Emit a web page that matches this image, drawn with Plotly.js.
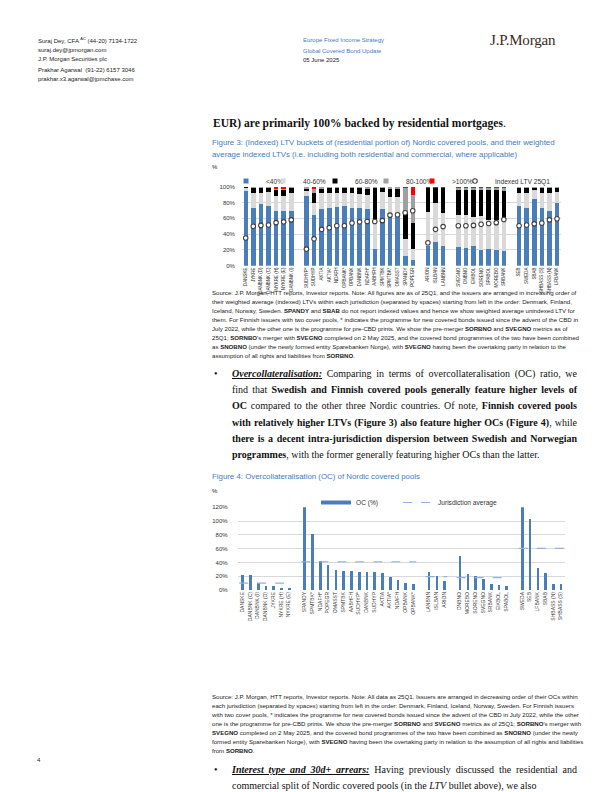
<!DOCTYPE html>
<html>
<head>
<meta charset="utf-8">
<script src="https://cdn.plot.ly/plotly-3.0.1.min.js"></script>
<style>
  html, body { margin: 0; padding: 0; background: #fff; }
  body { width: 612px; height: 792px; position: relative; overflow: hidden; }
  #chart { position: absolute; left: 0; top: 0; width: 612px; height: 792px; }
  .t { position: absolute; white-space: nowrap; font-family: "Liberation Sans", Arial, sans-serif; line-height: 1; color: #222; }
  .hd { font-size: 6px; }
  .blue { color: #3f7cc0; }
  .logo { font-family: "Liberation Serif", "Times New Roman", serif; font-size: 15px; color: #3b2a1e; letter-spacing: -0.2px; }
  .ftitle { font-size: 7.85px; color: #3f7cc0; }
  .src { font-size: 6.1px; color: #222; }
  .body { font-family: "Liberation Serif", "Times New Roman", serif; font-size: 10px; color: #111; }
  .jl { text-align: justify; text-align-last: justify; width: 345px; }
  b.bi { font-weight: bold; font-style: italic; text-decoration: underline; }
</style>
</head>
<body>
<div id="chart"></div>

<!-- header -->
<div class="t hd" style="left:38px;top:37px;">Suraj Dey, CFA <sup style="font-size:4px;">AC</sup> (44-20) 7134-1722</div>
<div class="t hd" style="left:38px;top:46.5px;">suraj.dey@jpmorgan.com</div>
<div class="t hd" style="left:38px;top:55.5px;">J.P. Morgan Securities plc</div>
<div class="t hd" style="left:38px;top:66.5px;">Prakhar Agarwal &nbsp;(91-22) 6157 3046</div>
<div class="t hd" style="left:38px;top:75.5px;">prakhar.x3.agarwal@jpmchase.com</div>
<div class="t hd blue" style="left:303px;top:37px;">Europe Fixed Income Strategy</div>
<div class="t hd blue" style="left:303px;top:48px;">Global Covered Bond Update</div>
<div class="t hd" style="left:303px;top:57px;">05 June 2025</div>
<div class="t logo" style="left:490px;top:33px;">J.P.Morgan</div>

<div class="t body" style="left:213px;top:118px;font-size:11.5px;"><b>EUR) are primarily 100% backed by residential mortgages</b>.</div>

<!-- Figure 3 title -->
<div class="t ftitle" style="left:212px;top:139px;">Figure 3: (Indexed) LTV buckets of (residential portion of) Nordic covered pools, and their weighted</div>
<div class="t ftitle" style="left:212px;top:151px;">average indexed LTVs (i.e. including both residential and commercial, where applicable)</div>
<div class="t src" style="left:212px;top:164px;font-size:6px;">%</div>

<!-- Figure 3 source -->
<div class="t src" style="left:212px;top:288px;line-height:9px;">
Source: J.P. Morgan, HTT reports, Investor reports. Note: All figures are as of 25Q1, and the issuers are arranged in increasing order of<br>
their weighted average (indexed) LTVs within each jurisdiction (separated by spaces) starting from left in the order: Denmark, Finland,<br>
Iceland, Norway, Sweden. <b>SPANDY</b> and <b>SBAB</b> do not report indexed values and hence we show weighted average unindexed LTV for<br>
them. For Finnish issuers with two cover pools, * indicates the programme for new covered bonds issued since the advent of the CBD in<br>
July 2022, while the other one is the programme for pre-CBD prints. We show the pre-merger <b>SORBNO</b> and <b>SVEGNO</b> metrics as of<br>
25Q1; <b>SORNBO</b>'s merger with <b>SVEGNO</b> completed on 2 May 2025, and the covered bond programmes of the two have been combined<br>
as <b>SNOBNO</b> (under the newly formed entity Sparebanken Norge), with <b>SVEGNO</b> having been the overtaking party in relation to the<br>
assumption of all rights and liabilities from <b>SORBNO</b>.
</div>

<!-- Bullet 1 -->
<div class="t body" style="left:214px;top:369px;">&#8226;</div>
<div class="t body jl" style="left:232px;top:369px;"><b class="bi">Overcollateralisation:</b> Comparing in terms of overcollateralisation (OC) ratio, we</div>
<div class="t body jl" style="left:232px;top:385.2px;">find that <b>Swedish and Finnish covered pools generally feature higher levels of</b></div>
<div class="t body jl" style="left:232px;top:401.4px;"><b>OC</b> compared to the other three Nordic countries. Of note, <b>Finnish covered pools</b></div>
<div class="t body jl" style="left:232px;top:417.6px;"><b>with relatively higher LTVs (Figure 3) also feature higher OCs (Figure 4)</b>, while</div>
<div class="t body jl" style="left:232px;top:433.8px;"><b>there is a decent intra-jurisdiction dispersion between Swedish and Norwegian</b></div>
<div class="t body" style="left:232px;top:450px;"><b>programmes</b>, with the former generally featuring higher OCs than the latter.</div>

<!-- Figure 4 title -->
<div class="t ftitle" style="left:212px;top:473px;">Figure 4: Overcollateralisation (OC) of Nordic covered pools</div>
<div class="t src" style="left:212px;top:488px;font-size:6px;">%</div>

<!-- Figure 4 source -->
<div class="t src" style="left:212px;top:692px;line-height:9px;">
Source: J.P. Morgan, HTT reports, Investor reports. Note: All data as 25Q1. Issuers are arranged in decreasing order of their OCs within<br>
each jurisdiction (separated by spaces) starting from left in the order: Denmark, Finland, Iceland, Norway, Sweden. For Finnish issuers<br>
with two cover pools, * indicates the programme for new covered bonds issued since the advent of the CBD in July 2022, while the other<br>
one is the programme for pre-CBD prints. We show the pre-merger <b>SORBNO</b> and <b>SVEGNO</b> metrics as of 25Q1; <b>SORBNO</b>'s merger with<br>
<b>SVEGNO</b> completed on 2 May 2025, and the covered bond programmes of the two have been combined as <b>SNOBNO</b> (under the newly<br>
formed entity Sparebanken Norge), with <b>SVEGNO</b> having been the overtaking party in relation to the assumption of all rights and liabilities<br>
from <b>SORBNO</b>.
</div>

<div class="t hd" style="left:37px;top:757px;">4</div>

<!-- Bullet 2 -->
<div class="t body" style="left:214px;top:765px;">&#8226;</div>
<div class="t body jl" style="left:232px;top:765px;"><b class="bi">Interest type and 30d+ arrears:</b> Having previously discussed the residential and</div>
<div class="t body" style="left:232px;top:781px;">commercial split of Nordic covered pools (in the <i>LTV</i> bullet above), we also</div>

<script>
// ---------------- Figure 3 data: LTV buckets (%), 25Q1 ----------------
const ltvIssuers = [
  'DANSKE','JYKRE','DANBNK (D)','DANBNK (C)','NYKRE (H)','NYKRE (E)','DANBNK (I)',
  'SUDHYP*','SUDHYP','AKTIA','AKTIA*','NDAFH','OPBANK*','OPBANK','DANBNK','NDAFH*','AABHFH','SPMTBK','SPMTBK*','OMASST','SPANDY','POPEGR',
  'ARION','ISLBAN','LANBNN',
  'SVEGNO','DNBNO','EIKBOL','SORENO','SPABOL','MOREBO','SRBANK',
  'SEB','SWEDA','SBAB','SHBASS (S)','SHBASS (N)','LFBANK'
];
const ltvGroupSizes = [7, 15, 3, 7, 6];
const ltvBelow40 = [95,73,78,76,69,69,70, 88,64,72,74,75,76,74,74,72,22,72,64,63,13,8, 25,31,25, 24,23,25,20,22,20,19, 76,74,85,73,70,80];
const ltv40to60  = [4,19,15,18,19,19,22, 7,16,20,18,18,16,18,17,18,36,22,23,24,21,14, 43,49,42, 40,41,37,43,36,38,40, 17,18,11,20,22,14];
const ltv60to80  = [1,7,6,5,9,9,7, 3,13,6,7,6,7,7,8,8,41,5,11,11,34,33, 31,19,32, 33,33,34,34,39,39,36, 6,7,3.5,6,7,5];
const ltv80to100 = [0,1,1,1,1,1,1, 2,5,2,1,1,1,1,1,2,1,1,2,2,31,35, 0,0,0, 2,2,3,2,2,2,4, 1,1,0.5,1,1,1];
const ltvOver100 = [0,0,0,0,2,2,0, 0,2,0,0,0,0,0,0,0,0,0,0,0,1,10, 1,1,1, 1,1,1,1,1,1,1, 0,0,0,0,0,0];
const ltvIndexed = [35,50,51,51.5,54.5,55.5,58, 21,34,46,48,50.5,50.5,54,55.5,56,56,57,64,64.5,67,69.5, 29,46,49.5, 50.5,50.5,51,52.5,53.5,54.5,58.5, 50.5,51.5,53,54,58,59.5];
const ltvBucketNames = ['<40%', '40-60%', '60-80%', '80-100%', '>100%'];
const ltvLineName = 'Indexed LTV 25Q1';

// ---------------- Figure 4 data: OC (%), 25Q1 ----------------
const ocIssuers = [
  'DANSKE','DANBNK (C)','DANBNK (I)','DANBNK (D)','JYKRE','NYKRE (H)','NYKRE (E)',
  'SPANDY','SPMTBK*','NDAFH*','POPEGR','OMASST','SPMTBK','AABHFH','SUDHYP*','DANBNK','SUDHYP','AKTIA','AKTIA*','NDAFH','OPBANK','OPBANK*',
  'LANBNN','ISLBAN','ARION',
  'DNBNO','MOREBO','SORENO','SVEGNO','SRBANK','EIKBOL','SPABOL',
  'SWEDA','SEB','LFBANK','SBAB','SHBASS (N)','SHBASS (S)'
];
const ocGroupSizes = [7, 15, 3, 7, 6];
const ocValues = [21,21,10,6,6,3,3, 125,81,42,35.5,28,27,26.5,26,25.5,25,24.5,18.5,14,9.5,9, 25.5,20.5,12, 48.5,23,19.5,16,8,7,5, 125,102,31.5,24.5,9,9];
const ocJurisdictionAvg = [10, 41, 19.5, 18, 60.5];
const ocBarName = 'OC (%)';
const ocAvgName = 'Jurisdiction average';

// ---------------- helpers ----------------
const W = 612, H = 792;
const fx = px => px / W;
const fy = py => 1 - py / H;
function slotPositions(sizes) {
  const pos = []; let s = 0;
  sizes.forEach(n => { for (let i = 0; i < n; i++) { pos.push(s); s++; } s++; });
  return pos;
}
function groupBounds(sizes) {
  const b = []; let s = 0;
  sizes.forEach(n => { b.push([s, s + n - 1]); s += n + 1; });
  return b;
}
const x3 = slotPositions(ltvGroupSizes);
const x4 = slotPositions(ocGroupSizes);

const bucketColors = ['#4a7ebb', '#d9d9d9', '#000000', '#a0a0a0', '#ff0000'];
const bucketData = [ltvBelow40, ltv40to60, ltv60to80, ltv80to100, ltvOver100];

// one legend box per entry so each entry sits where the original puts it
const fig3LegendText = [258, 295, 347, 398, 444, 487];   // px, left of each legend label
const fig4LegendText = [352, 434];

const traces = [];
ltvBucketNames.forEach((nm, i) => {
  traces.push({
    type: 'scatter', mode: 'markers', x: [null], y: [null], xaxis: 'x', yaxis: 'y',
    name: nm, legend: i === 0 ? 'legend' : 'legend' + (i + 1), legendgroup: 'b' + i,
    marker: { symbol: 'square', size: 5, color: bucketColors[i] }, hoverinfo: 'skip'
  });
});
bucketData.forEach((arr, i) => {
  traces.push({
    type: 'bar', x: x3, y: arr, xaxis: 'x', yaxis: 'y', name: ltvBucketNames[i],
    legendgroup: 'b' + i, showlegend: false, width: 0.6,
    marker: { color: bucketColors[i], line: { width: 0 } },
    customdata: ltvIssuers, hovertemplate: '%{customdata}: %{y}%<extra>' + ltvBucketNames[i] + '</extra>'
  });
});
traces.push({
  type: 'scatter', mode: 'markers', x: x3, y: ltvIndexed, xaxis: 'x', yaxis: 'y',
  name: ltvLineName, legend: 'legend6',
  marker: { symbol: 'circle', size: 4.5, color: '#ffffff', line: { color: '#404040', width: 1.1 } },
  customdata: ltvIssuers, hovertemplate: '%{customdata}: %{y}%<extra></extra>'
});

// Figure 4
traces.push({
  type: 'scatter', mode: 'lines', x: [null], y: [null], xaxis: 'x2', yaxis: 'y2',
  name: ocBarName, legend: 'legend7', legendgroup: 'oc',
  line: { color: '#4a7ebb', width: 4 }, hoverinfo: 'skip'
});
traces.push({
  type: 'bar', x: x4, y: ocValues, xaxis: 'x2', yaxis: 'y2', name: ocBarName,
  legendgroup: 'oc', showlegend: false, width: 0.34,
  marker: { color: '#4a7ebb', line: { width: 0 } },
  customdata: ocIssuers, hovertemplate: '%{customdata}: %{y}%<extra></extra>'
});
const avgX = [], avgY = [];
groupBounds(ocGroupSizes).forEach((b, i) => {
  avgX.push(b[0] - 0.4, b[1] + 0.4, null);
  avgY.push(ocJurisdictionAvg[i], ocJurisdictionAvg[i], null);
});
traces.push({
  type: 'scatter', mode: 'lines', x: avgX, y: avgY, xaxis: 'x2', yaxis: 'y2',
  name: ocAvgName, legend: 'legend8', connectgaps: false,
  line: { color: '#8db3e2', width: 1.2, dash: 'dash' }, hoverinfo: 'skip'
});

const tickFont = { family: 'Liberation Sans, Arial, sans-serif', size: 6, color: '#333' };
const xFont3 = { family: 'Liberation Sans, Arial, sans-serif', size: 4.5, color: '#333' };
const xFont4 = { family: 'Liberation Sans, Arial, sans-serif', size: 5, color: '#333' };
const legFont = { family: 'Liberation Sans, Arial, sans-serif', size: 6.6, color: '#333' };

function legendAt(leftPx, centerYPx) {
  return {
    orientation: 'h', x: fx(leftPx), xanchor: 'left', y: fy(centerYPx), yanchor: 'middle',
    font: legFont, bgcolor: 'rgba(0,0,0,0)', itemwidth: 30, borderwidth: 0
  };
}

const layout = {
  width: W, height: H, margin: { l: 0, r: 0, t: 0, b: 0 },
  paper_bgcolor: 'rgba(0,0,0,0)', plot_bgcolor: 'rgba(0,0,0,0)',
  barmode: 'stack', bargap: 0, showlegend: true,
  xaxis: {
    domain: [fx(241.9), fx(560.8)], range: [-0.5, 41.5], anchor: 'y',
    tickmode: 'array', tickvals: x3, ticktext: ltvIssuers, tickangle: -90,
    tickfont: xFont3, showgrid: false, zeroline: false, showline: false, ticks: '', fixedrange: true
  },
  yaxis: {
    domain: [fy(265.7), fy(186.7)], range: [0, 100], anchor: 'x', dtick: 20, ticksuffix: '%',
    tickfont: tickFont, gridcolor: '#d9d9d9', gridwidth: 0.8, zeroline: false, showline: false,
    ticks: '', ticklabelstandoff: 6, fixedrange: true
  },
  xaxis2: {
    domain: [fx(237.6), fx(565.4)], range: [-0.6, 41.6], anchor: 'y2',
    tickmode: 'array', tickvals: x4, ticktext: ocIssuers, tickangle: -90,
    tickfont: xFont4, showgrid: false, zeroline: false, showline: false, ticks: '', fixedrange: true
  },
  yaxis2: {
    domain: [fy(590), fy(507.3)], range: [0, 120], anchor: 'x2', dtick: 20, ticksuffix: '%',
    tickfont: tickFont, gridcolor: '#d9d9d9', gridwidth: 0.8, zeroline: false, showline: false,
    ticks: '', ticklabelstandoff: 9, fixedrange: true
  }
};
fig3LegendText.forEach((px, i) => {
  layout[i === 0 ? 'legend' : 'legend' + (i + 1)] = legendAt(px - 32, 181);
});
fig4LegendText.forEach((px, i) => {
  layout['legend' + (i + 7)] = legendAt(px - 36, 502.5);
});

Plotly.newPlot('chart', traces, layout, { displayModeBar: false, responsive: false });
</script>
</body>
</html>
